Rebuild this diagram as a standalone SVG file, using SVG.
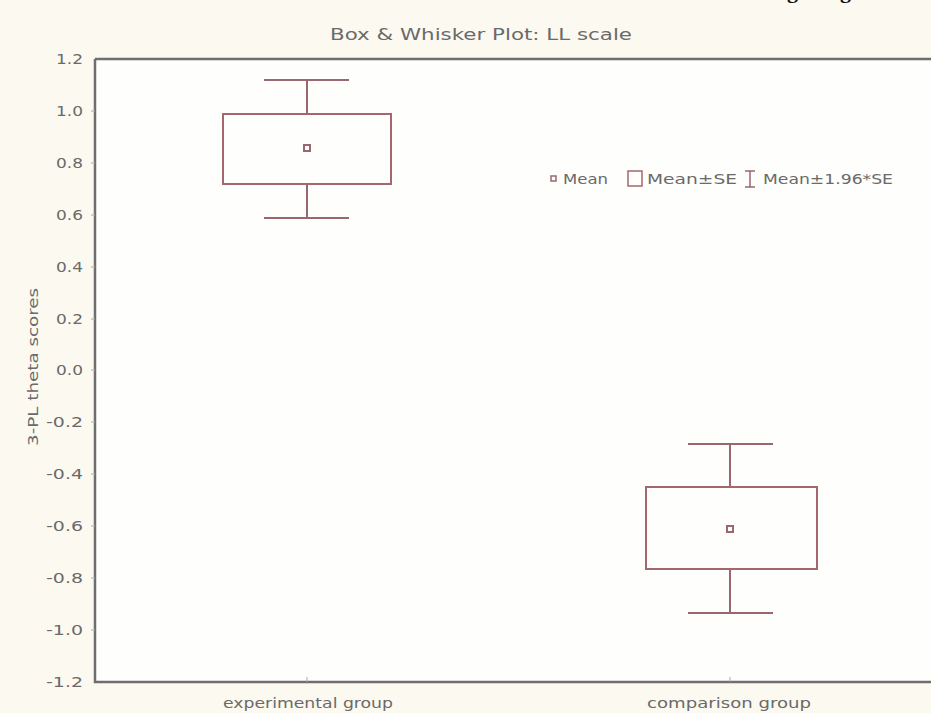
<svg xmlns="http://www.w3.org/2000/svg" width="931" height="713" viewBox="0 0 931 713">
<style>
text{font-family:"DejaVu Sans","Liberation Sans",Arial,sans-serif;fill:#6a6a6a}
.tick{font-size:13.5px;text-anchor:end}
.lab{font-size:13.5px;text-anchor:middle}
.box{fill:none;stroke:#a56670;stroke-width:2}
.wh{fill:none;stroke:#9a6670;stroke-width:2}
.mean{fill:none;stroke:#9a6670;stroke-width:2}
.axis{fill:none;stroke:#6e6e6e;stroke-width:2.5}
.tk{stroke:#aaa;stroke-width:1}
.frag{font-family:"Liberation Serif",serif;font-size:22px;font-weight:bold;fill:#111}
</style>
<rect width="931" height="713" fill="#fcf9f0"/>
<text class="frag" x="787" y="-2">g</text>
<text class="frag" x="840" y="-2">g</text>
<text x="481" y="40" class="lab" style="font-size:15.5px" textLength="302" lengthAdjust="spacingAndGlyphs">Box &amp; Whisker Plot: LL scale</text>
<g id="plot-area">
<rect x="95" y="59" width="840" height="623" fill="#fefefc"/>
<path class="axis" d="M95,59H935M95,59V682H935"/>
</g>
<g id="y-axis">
<g class="tk">
<line x1="91" y1="111" x2="95" y2="111"/><line x1="91" y1="163" x2="95" y2="163"/><line x1="91" y1="215" x2="95" y2="215"/><line x1="91" y1="267" x2="95" y2="267"/><line x1="91" y1="319" x2="95" y2="319"/><line x1="91" y1="370" x2="95" y2="370"/><line x1="91" y1="422" x2="95" y2="422"/><line x1="91" y1="474" x2="95" y2="474"/><line x1="91" y1="526" x2="95" y2="526"/><line x1="91" y1="578" x2="95" y2="578"/><line x1="91" y1="630" x2="95" y2="630"/>
</g>
<text class="tick" x="83" y="64" textLength="27" lengthAdjust="spacingAndGlyphs">1.2</text>
<text class="tick" x="83" y="116" textLength="27" lengthAdjust="spacingAndGlyphs">1.0</text>
<text class="tick" x="83" y="168" textLength="27" lengthAdjust="spacingAndGlyphs">0.8</text>
<text class="tick" x="83" y="220" textLength="27" lengthAdjust="spacingAndGlyphs">0.6</text>
<text class="tick" x="83" y="272" textLength="27" lengthAdjust="spacingAndGlyphs">0.4</text>
<text class="tick" x="83" y="324" textLength="27" lengthAdjust="spacingAndGlyphs">0.2</text>
<text class="tick" x="83" y="375" textLength="27" lengthAdjust="spacingAndGlyphs">0.0</text>
<text class="tick" x="83" y="427" textLength="37" lengthAdjust="spacingAndGlyphs">-0.2</text>
<text class="tick" x="83" y="479" textLength="37" lengthAdjust="spacingAndGlyphs">-0.4</text>
<text class="tick" x="83" y="531" textLength="37" lengthAdjust="spacingAndGlyphs">-0.6</text>
<text class="tick" x="83" y="583" textLength="37" lengthAdjust="spacingAndGlyphs">-0.8</text>
<text class="tick" x="83" y="635" textLength="37" lengthAdjust="spacingAndGlyphs">-1.0</text>
<text class="tick" x="83" y="687" textLength="37" lengthAdjust="spacingAndGlyphs">-1.2</text>
<text class="lab" transform="translate(38,367) rotate(-90)" textLength="158" lengthAdjust="spacingAndGlyphs">3-PL theta scores</text>
</g>
<g id="x-axis">
<line class="tk" x1="307" y1="677" x2="307" y2="682"/>
<line class="tk" x1="730" y1="677" x2="730" y2="682"/>
<text class="lab" x="308" y="708" textLength="170" lengthAdjust="spacingAndGlyphs">experimental group</text>
<text class="lab" x="729" y="708" textLength="164" lengthAdjust="spacingAndGlyphs">comparison group</text>
</g>
<g id="experimental-group">
<path class="wh" d="M264,80H349M307,80V114M307,184V218M264,218H349"/>
<rect class="box" x="223" y="114" width="168" height="70"/>
<rect class="mean" x="304" y="145" width="6" height="6"/>
</g>
<g id="comparison-group">
<path class="wh" d="M688,444H773M730,444V487M730,569V613M688,613H773"/>
<rect class="box" x="646" y="487" width="171" height="82"/>
<rect class="mean" x="727" y="526" width="6" height="6"/>
</g>
<g id="legend">
<rect class="mean" x="551" y="176" width="5" height="5" style="stroke-width:1.5"/>
<text x="563" y="184" style="font-size:13.5px" textLength="45" lengthAdjust="spacingAndGlyphs">Mean</text>
<rect class="box" x="628" y="171" width="14" height="15" style="stroke-width:1.5"/>
<text x="647" y="184" style="font-size:13.5px" textLength="90" lengthAdjust="spacingAndGlyphs">Mean±SE</text>
<path class="wh" d="M745,171H755M750,171V187M745,187H755" style="stroke-width:1.5"/>
<text x="763" y="184" style="font-size:13.5px" textLength="130" lengthAdjust="spacingAndGlyphs">Mean±1.96*SE</text>
</g>
</svg>
